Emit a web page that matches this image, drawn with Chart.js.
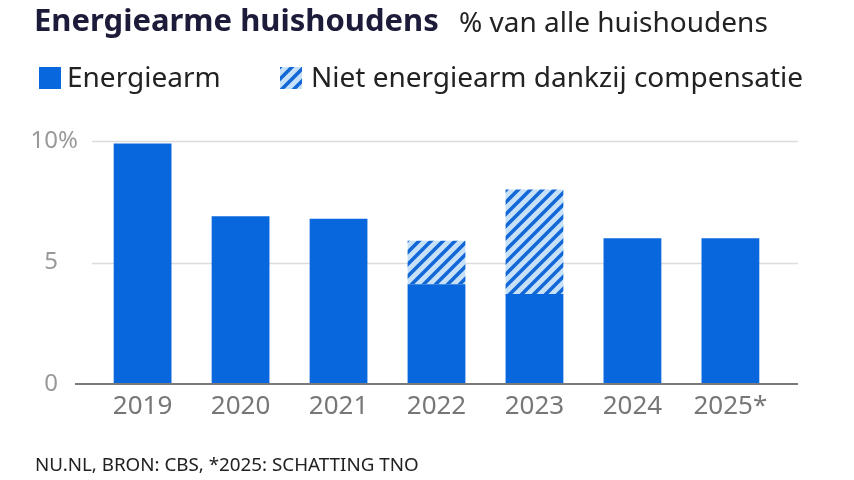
<!DOCTYPE html>
<html>
<head>
<meta charset="utf-8">
<script src="https://cdn.jsdelivr.net/npm/chart.js@4.4.1/dist/chart.umd.min.js"></script>
<style>
  html, body { margin: 0; padding: 0; background: #fff; }
  body { width: 854px; height: 480px; position: relative; overflow: hidden; font-family: "Noto Sans", "Open Sans", sans-serif; }
  #chart { position: absolute; left: 0; top: 0; }
  .t { position: absolute; white-space: nowrap; }
  #title { left: 34px; top: 1px; font-size: 31px; line-height: 36px; font-weight: 700; color: #1c1c3a; }
  #subtitle { left: 459px; top: 3px; font-size: 28px; line-height: 36px; color: #222; }
  .lg-box { position: absolute; top: 67px; width: 22px; height: 22px; }
  .lg-text { position: absolute; top: 62px; font-size: 28px; line-height: 28px; color: #222; }
  #footer { left: 35px; top: 455px; font-size: 18.8px; line-height: 19px; color: #222; }
</style>
</head>
<body>
<canvas id="chart" width="854" height="480"></canvas>
<div class="t" id="title">Energiearme huishoudens</div>
<div class="t" id="subtitle">% van alle huishoudens</div>
<div id="legend"></div>
<div class="t" id="footer">NU.NL, BRON: CBS, *2025: SCHATTING TNO</div>
<script>
const years = ["2019", "2020", "2021", "2022", "2023", "2024", "2025*"];
const energiearm = [9.9, 6.9, 6.8, 4.1, 3.7, 6.0, 6.0];
const compensatie = [null, null, null, 1.8, 4.3, null, null];
const yTicks = [0, 5, 10];
const seriesNames = ["Energiearm", "Niet energiearm dankzij compensatie"];

const BLUE = "#0867dc";
const STRIPE = "#1268d6";
const LIGHT = "#c7e1f8";

// diagonal hatch used for the compensation part
function hatch(ctx) {
  const c = document.createElement("canvas");
  c.width = c.height = 12;
  const g = c.getContext("2d");
  g.fillStyle = LIGHT;
  g.fillRect(0, 0, 12, 12);
  g.strokeStyle = STRIPE;
  g.lineWidth = 3.6;
  g.beginPath();
  g.moveTo(-3, 3); g.lineTo(3, -3);
  g.moveTo(0, 12); g.lineTo(12, 0);
  g.moveTo(9, 15); g.lineTo(15, 9);
  g.stroke();
  return ctx.createPattern(c, "repeat");
}

const canvas = document.getElementById("chart");
const pattern = hatch(canvas.getContext("2d"));

// LEGEND
const legend = document.getElementById("legend");
const boxX = [39, 280];
const textX = [67, 311];
seriesNames.forEach((name, i) => {
  const sw = document.createElement("canvas");
  sw.className = "lg-box";
  sw.width = sw.height = 22;
  sw.style.left = boxX[i] + "px";
  const sg = sw.getContext("2d");
  sg.fillStyle = i === 0 ? BLUE : hatch(sg);
  sg.fillRect(0, 0, 22, 22);
  legend.appendChild(sw);
  const tx = document.createElement("div");
  tx.className = "lg-text t";
  tx.style.left = textX[i] + "px";
  tx.textContent = name;
  legend.appendChild(tx);
});

// grid lines, the non-zero ones start right of the labels
const gridPlugin = {
  id: "grid",
  beforeDatasetsDraw(chart) {
    const { ctx, chartArea, scales } = chart;
    ctx.save();
    ctx.strokeStyle = "#dcdcdc";
    ctx.lineWidth = 1.5;
    yTicks.filter(v => v !== 0).forEach(v => {
      const y = Math.round(scales.y.getPixelForValue(v)) + 0.5;
      ctx.beginPath();
      ctx.moveTo(chartArea.left + 17, y);
      ctx.lineTo(chartArea.right, y);
      ctx.stroke();
    });
    ctx.restore();
  },
  afterDatasetsDraw(chart) {
    const { ctx, chartArea, scales } = chart;
    const y = scales.y.getPixelForValue(0);
    ctx.save();
    ctx.strokeStyle = "#7a7a7a";
    ctx.lineWidth = 2;
    ctx.beginPath();
    ctx.moveTo(chartArea.left, y);
    ctx.lineTo(chartArea.right, y);
    ctx.stroke();
    ctx.restore();
  },
  afterDraw(chart) {
    // "%" hangs after the top label
    const s = chart.scales.y;
    const ctx = chart.ctx;
    const top = yTicks[yTicks.length - 1];
    ctx.save();
    ctx.font = "24px 'Noto Sans'";
    ctx.fillStyle = "#999";
    ctx.textBaseline = "middle";
    ctx.textAlign = "left";
    ctx.fillText("%", s.right - 17, s.getPixelForValue(top));
    ctx.restore();
  }
};

new Chart(canvas, {
  type: "bar",
  data: {
    datasets: [
      {
        label: seriesNames[0],
        data: energiearm.map((v, i) => ({ x: i, y: v })),
        backgroundColor: BLUE,
        stack: "a",
        barPercentage: 0.59,
        categoryPercentage: 1
      },
      {
        label: seriesNames[1],
        data: compensatie.map((v, i) => ({ x: i, y: v })),
        backgroundColor: pattern,
        stack: "a",
        barPercentage: 0.59,
        categoryPercentage: 1
      }
    ]
  },
  options: {
    responsive: false,
    animation: false,
    layout: { padding: { top: 141, left: 0, right: 56, bottom: 56 } },
    plugins: { legend: { display: false }, tooltip: { enabled: false } },
    scales: {
      x: {
        type: "linear",
        offset: false,
        min: -0.69,
        max: 6.69,
        grid: { display: false, drawTicks: false },
        border: { display: false },
        afterBuildTicks: s => { s.ticks = years.map((_, i) => ({ value: i })); },
        afterFit: s => { s.height = 40; },
        ticks: {
          callback: v => years[v],
          font: { family: "Noto Sans", size: 26 },
          color: "#777",
          padding: 7,
          maxRotation: 0,
          autoSkip: false
        }
      },
      y: {
        stacked: true,
        min: 0,
        max: 10,
        grid: { display: false, drawTicks: false },
        border: { display: false },
        afterBuildTicks: s => { s.ticks = yTicks.map(v => ({ value: v })); },
        afterFit: s => { s.width = 75; },
        ticks: {
          font: { family: "Noto Sans", size: 24 },
          color: "#999",
          padding: 17
        }
      }
    }
  },
  plugins: [gridPlugin]
});
</script>
</body>
</html>
